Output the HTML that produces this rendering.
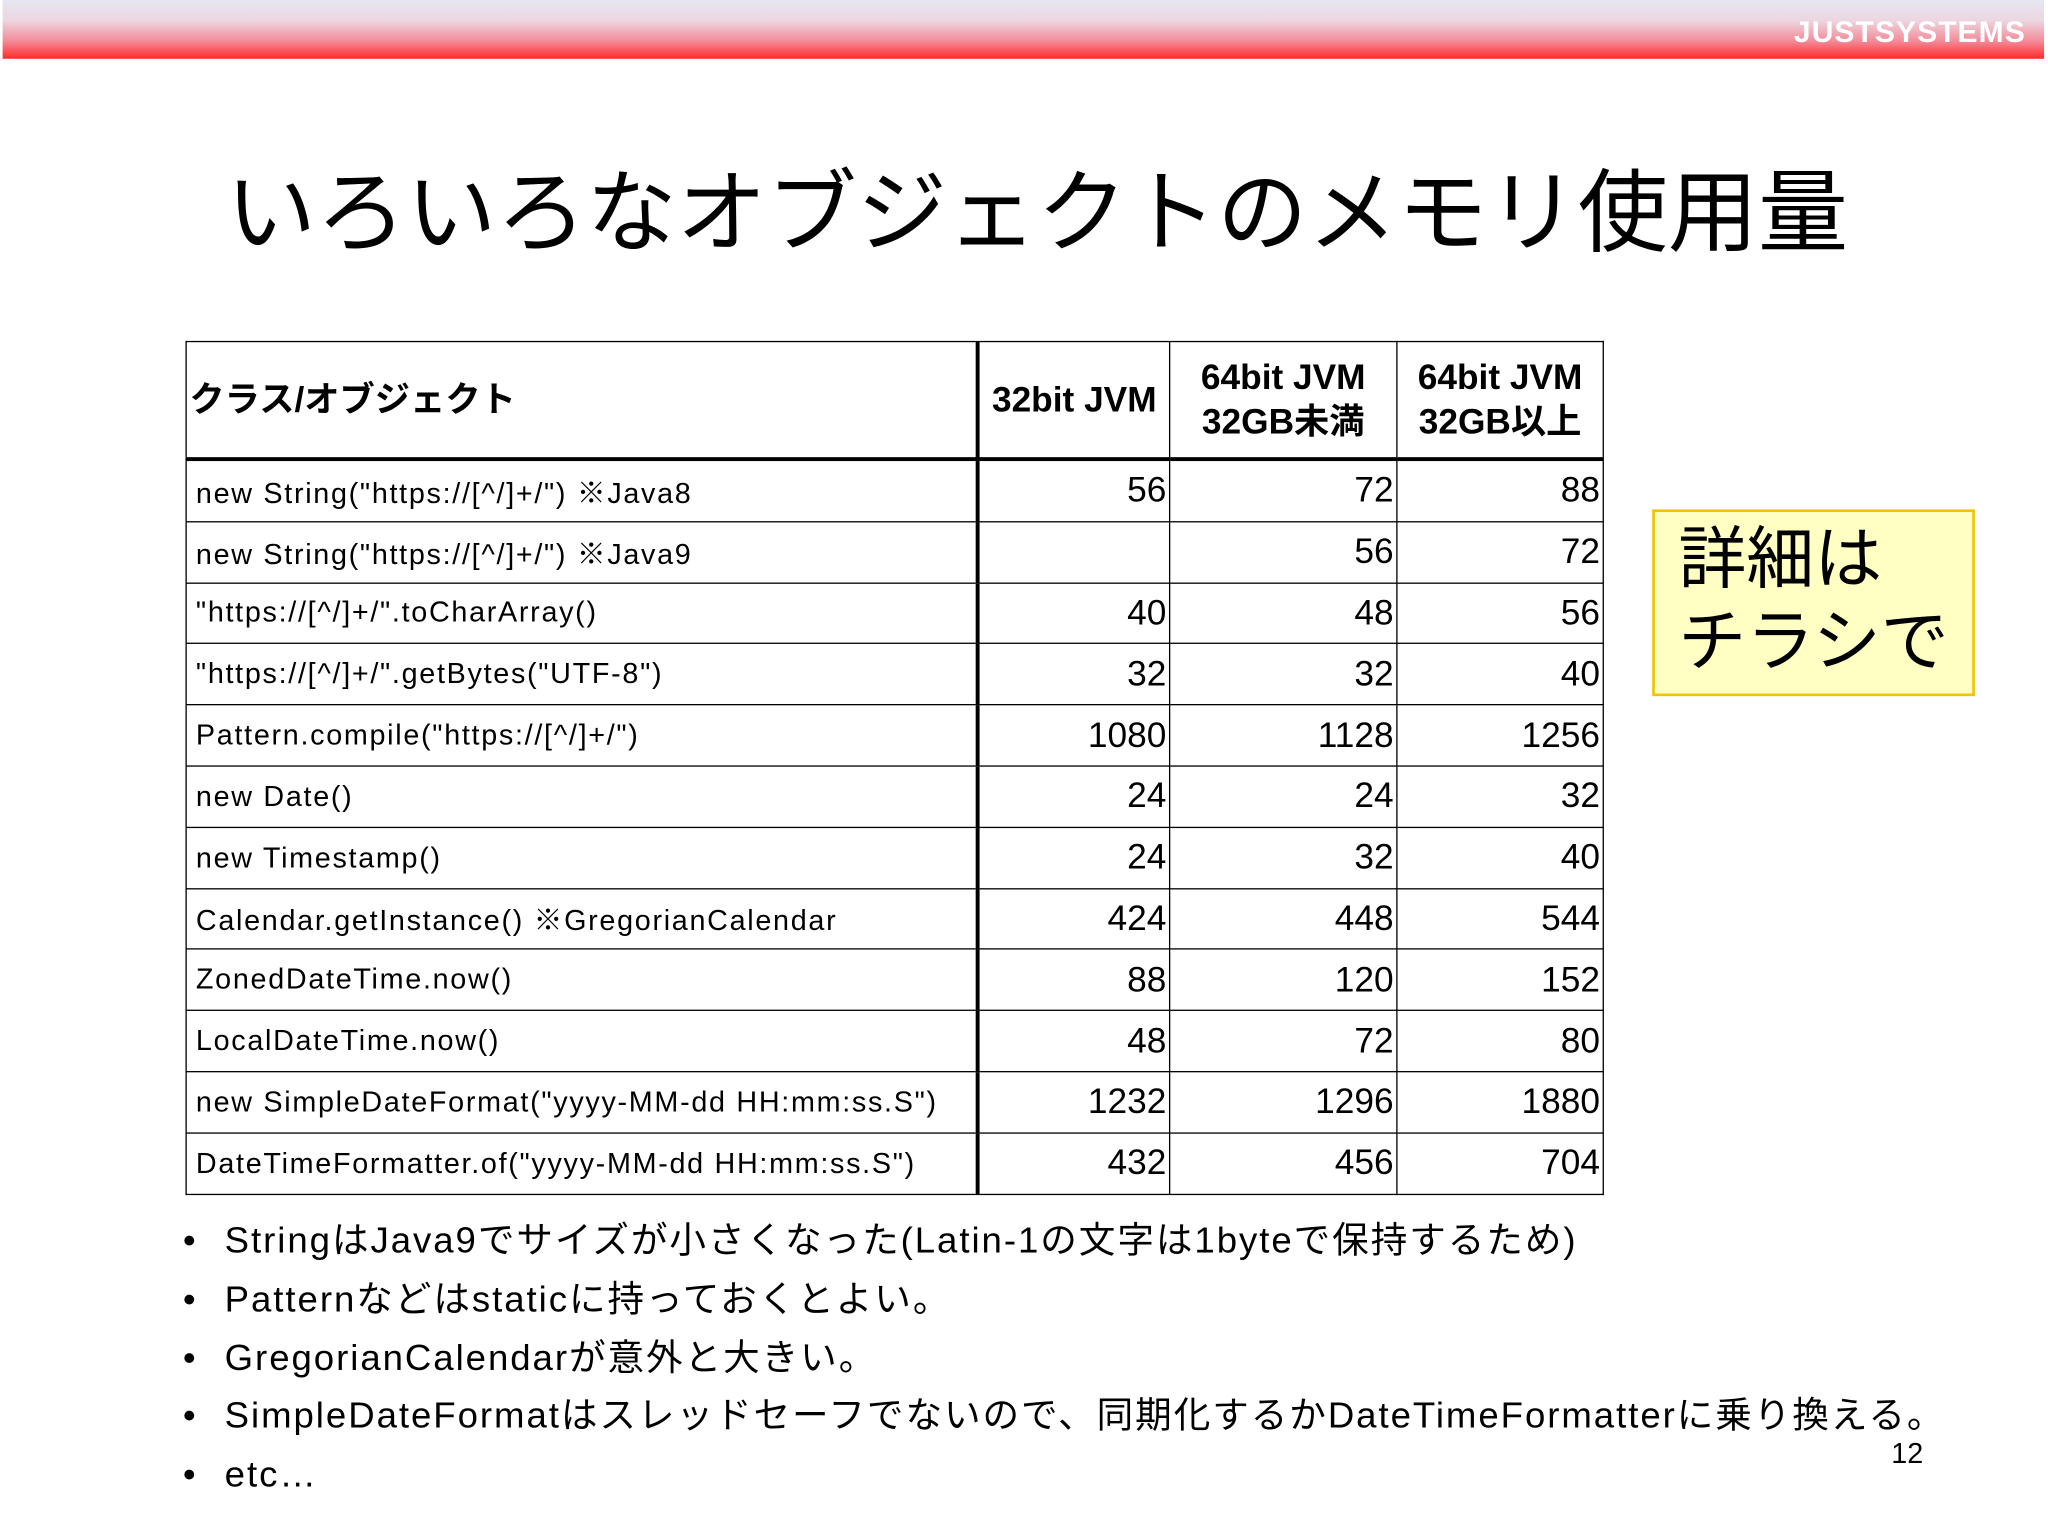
<!DOCTYPE html>
<html><head><meta charset="utf-8"><style>
html,body{margin:0;padding:0;background:#fff;}
body{width:2048px;height:1536px;overflow:hidden;position:relative;}
#s{position:absolute;left:0;top:0;width:1568px;height:1176px;transform:scale(1.30612);transform-origin:0 0;font-family:"Liberation Sans","Noto Sans CJK JP",sans-serif;color:#000;}
.hdr{position:absolute;left:2px;top:0;width:1563px;height:45px;background:linear-gradient(#e6e6f2 0%,#ecd6e0 35%,#f48a98 70%,#ff2a2a 100%);}
.logo{position:absolute;right:14px;top:11px;font:bold 23px "Liberation Sans",sans-serif;color:#fff;letter-spacing:0.8px;}
.title{position:absolute;left:0;width:1568px;top:119px;text-align:center;font-size:69px;line-height:90px;padding-left:20px;box-sizing:border-box;}
table{position:absolute;left:142px;top:261px;border-collapse:collapse;}
td,th{border:1.5px solid #000;padding:0 2px;height:45px;}
td{height:45.8px;}
th{font-weight:bold;font-size:27px;height:88px;border-bottom:3px solid #000;text-align:center;line-height:34px;}
th.c0{text-align:left;}
td.l{font-size:22px;padding-left:7px;letter-spacing:1.3px;}
td.n{font-size:27px;text-align:right;}
.c0{border-right:3px solid #000;}
.box{position:absolute;left:1265px;top:390px;width:247px;height:143px;background:#ffffc4;border:2px solid #f2c200;font-size:52px;line-height:63px;padding:6px 0 0 18px;box-sizing:border-box;}
.bul{position:absolute;left:140px;font-size:28px;line-height:36px;letter-spacing:1.5px;white-space:nowrap;}
.bul span{display:inline-block;width:32px;letter-spacing:0;}
.pg{position:absolute;left:1448px;top:1100px;font-size:22px;}
</style></head><body>
<div id="s">
<div class="hdr"><div class="logo">JUSTSYSTEMS</div></div>
<div class="title">いろいろなオブジェクトのメモリ使用量</div>
<table>
<tr><th class="c0" style="width:600px">クラス/オブジェクト</th><th style="width:141px">32bit JVM</th><th style="width:169px">64bit JVM<br>32GB未満</th><th style="width:153px">64bit JVM<br>32GB以上</th></tr>
<tbody id="tb"></tbody>
</table>
<div class="box">詳細は<br>チラシで</div>
<div class="bul" style="top:932px"><span>•</span>StringはJava9でサイズが小さくなった(Latin-1の文字は1byteで保持するため)</div>
<div class="bul" style="top:977px"><span>•</span>Patternなどはstaticに持っておくとよい。</div>
<div class="bul" style="top:1022px"><span>•</span>GregorianCalendarが意外と大きい。</div>
<div class="bul" style="top:1066px"><span>•</span>SimpleDateFormatはスレッドセーフでないので、同期化するかDateTimeFormatterに乗り換える。</div>
<div class="bul" style="top:1111px"><span>•</span>etc…</div>
<div class="pg">12</div>
</div>
<script>
const labels=['new String("https://[^/]+/") ※Java8','new String("https://[^/]+/") ※Java9','"https://[^/]+/".toCharArray()','"https://[^/]+/".getBytes("UTF-8")','Pattern.compile("https://[^/]+/")','new Date()','new Timestamp()','Calendar.getInstance() ※GregorianCalendar','ZonedDateTime.now()','LocalDateTime.now()','new SimpleDateFormat("yyyy-MM-dd HH:mm:ss.S")','DateTimeFormatter.of("yyyy-MM-dd HH:mm:ss.S")'];
const jvm32=[56,'',40,32,1080,24,24,424,88,48,1232,432];
const jvm64a=[72,56,48,32,1128,24,32,448,120,72,1296,456];
const jvm64b=[88,72,56,40,1256,32,40,544,152,80,1880,704];
const tb=document.getElementById('tb');
labels.forEach((l,i)=>{
  const tr=document.createElement('tr');
  
  
  const c=document.createElement('td');c.className='l c0';c.textContent=l;
  
  
  tr.appendChild(c);
  [jvm32[i],jvm64a[i],jvm64b[i]].forEach(v=>{
    const d=document.createElement('td');d.className='n';d.textContent=v;
    
    
    tr.appendChild(d);
  });
  tb.appendChild(tr);
});
</script>
</body></html>
